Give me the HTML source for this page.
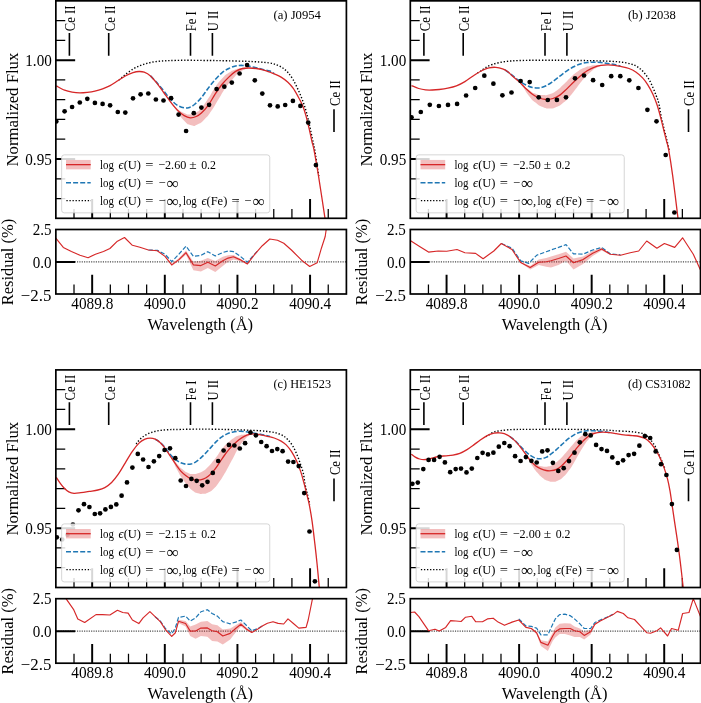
<!DOCTYPE html>
<html><head><meta charset="utf-8"><title>U II 4090 fits</title>
<style>html,body{margin:0;padding:0;background:#fff}svg{display:block;will-change:transform;opacity:0.999}text{font-family:"Liberation Serif",serif;fill:#000}</style>
</head><body>
<svg width="701" height="703" viewBox="0 0 701 703">
<rect width="701" height="703" fill="#fff"/>
<g id="panel-a">
<clipPath id="cma"><rect x="55.85" y="0.85" width="290.55" height="217.45"/></clipPath>
<clipPath id="cra"><rect x="55.85" y="229.5" width="290.55" height="64.5"/></clipPath>
<path d="M92.17,218.3 v-19.3 M164.81,218.3 v-19.3 M237.44,218.3 v-19.3 M310.08,218.3 v-19.3 M55.85,159 h19.3 M55.85,60.15 h19.3" stroke="#000" stroke-width="1.95" fill="none"/>
<path d="M74.01,218.3 v-9.4 M110.33,218.3 v-9.4 M128.49,218.3 v-9.4 M146.65,218.3 v-9.4 M182.97,218.3 v-9.4 M201.13,218.3 v-9.4 M219.28,218.3 v-9.4 M255.6,218.3 v-9.4 M273.76,218.3 v-9.4 M291.92,218.3 v-9.4 M328.24,218.3 v-9.4 M55.85,198.53 h9.4 M55.85,178.76 h9.4 M55.85,139.23 h9.4 M55.85,119.46 h9.4 M55.85,99.69 h9.4 M55.85,79.92 h9.4 M55.85,40.39 h9.4 M55.85,20.62 h9.4" stroke="#000" stroke-width="1.25" fill="none"/>
<g clip-path="url(#cma)">
<path d="M166,95.5 C167.5,97.4 166.7,96.77 170.5,101.2 C174.3,105.63 172.83,104.87 177.4,108.8 C181.97,112.73 179.93,111.13 184.2,113 C188.47,114.87 186.2,114.67 190.2,114.4 C194.2,114.13 192.47,114.37 196.2,112.2 C199.93,110.03 197.4,112.47 201.4,107.9 C205.4,103.33 203.63,105.33 208.2,98.5 C212.77,91.67 210.53,93.97 215.1,87.4 C219.67,80.83 217.33,83.67 221.9,78.8 C226.47,73.93 224.23,75.93 228.8,72.8 C233.37,69.67 231.03,71 235.6,69.4 C240.17,67.8 237.93,68.47 242.5,68 C247.07,67.53 247.03,68 249.3,68 L249.3,68 C248.17,68.33 249.33,67.4 245.9,69 C242.47,70.6 243.57,69.23 239,72.8 C234.43,76.37 236.77,74.57 232.2,79.7 C227.63,84.83 229.87,81.67 225.3,88.2 C220.73,94.73 223.07,91.87 218.5,99.3 C213.93,106.73 216.17,103.93 211.6,110.5 C207.03,117.07 209.37,114.43 204.8,119 C200.23,123.57 202.47,122.13 197.9,124.2 C193.33,126.27 195.67,126.33 191.1,125.2 C186.53,124.07 188.77,125.27 184.2,120.8 C179.63,116.33 181.97,117.87 177.4,111.8 C172.83,105.73 174.3,108.03 170.5,102.6 C166.7,97.17 167.5,97.87 166,95.5 Z" fill="#d62728" fill-opacity="0.3" stroke="none"/>
<path d="M119,80 C119.48,79.57 120.85,78.32 121.9,77.4 C122.95,76.48 123.45,75.88 125.3,74.5 C127.15,73.12 130.45,70.62 133,69.1 C135.55,67.58 138.05,66.42 140.6,65.4 C143.15,64.38 145.77,63.63 148.3,63 C150.83,62.37 153.27,61.95 155.8,61.6 C158.33,61.25 161.15,61.07 163.5,60.9 C165.85,60.73 166.45,60.7 169.9,60.6 C173.35,60.5 177.53,60.32 184.2,60.3 C190.87,60.28 202.75,60.42 209.9,60.5 C217.05,60.58 221.1,60.67 227.1,60.8 C233.1,60.93 240.48,61.1 245.9,61.3 C251.32,61.5 255.73,61.73 259.6,62 C263.47,62.27 266.37,62.47 269.1,62.9 C271.83,63.33 273.72,63.75 276,64.6 C278.28,65.45 280.82,66.68 282.8,68 C284.78,69.32 286.18,70.55 287.9,72.5 C289.62,74.45 291.38,76.8 293.1,79.7 C294.82,82.6 296.63,86.48 298.2,89.9 C299.77,93.32 301.22,96.77 302.5,100.2 C303.78,103.63 304.9,107.07 305.9,110.5 C306.9,113.93 307.63,117.1 308.5,120.8 C309.37,124.5 310.3,129 311.1,132.7 C311.9,136.4 312.7,140.13 313.3,143 C313.9,145.87 313.78,144.4 314.7,149.9 C315.62,155.4 318.12,171.65 318.8,176" fill="none" stroke="#000" stroke-width="1.4" stroke-dasharray="1.35 1.85"/>
<path d="M150.5,75.9 C151.55,77.02 154.6,80.12 156.8,82.6 C159,85.08 161.42,88.02 163.7,90.8 C165.98,93.58 168.22,96.88 170.5,99.3 C172.78,101.72 175.12,103.87 177.4,105.3 C179.68,106.73 182.2,107.55 184.2,107.9 C186.2,108.25 187.68,107.97 189.4,107.4 C191.12,106.83 192.5,106.13 194.5,104.5 C196.5,102.87 199.12,100.32 201.4,97.6 C203.68,94.88 205.92,91.18 208.2,88.2 C210.48,85.22 212.82,82.27 215.1,79.7 C217.38,77.13 219.62,74.67 221.9,72.8 C224.18,70.93 226.52,69.63 228.8,68.5 C231.08,67.37 233.32,66.52 235.6,66 C237.88,65.48 240.22,65.35 242.5,65.4 C244.78,65.45 247.02,65.92 249.3,66.3 C251.58,66.68 253.92,67.18 256.2,67.7 C258.48,68.22 260.72,68.83 263,69.4 C265.28,69.97 268.03,70.4 269.9,71.1 C271.77,71.8 273.48,73.18 274.2,73.6" fill="none" stroke="#1f77b4" stroke-width="1.55" stroke-dasharray="5 2.0"/>
<path d="M56.3,85.9 C57.68,86.62 61.97,89.17 64.6,90.2 C67.23,91.23 69.57,91.67 72.1,92.1 C74.63,92.53 77.27,92.77 79.8,92.8 C82.33,92.83 84.78,92.58 87.3,92.3 C89.82,92.02 92.35,91.68 94.9,91.1 C97.45,90.52 100.07,89.72 102.6,88.8 C105.13,87.88 107.57,86.93 110.1,85.6 C112.63,84.27 115.27,82.4 117.8,80.8 C120.33,79.2 122.77,77.35 125.3,76 C127.83,74.65 130.72,73.45 133,72.7 C135.28,71.95 137.13,71.58 139,71.5 C140.87,71.42 142.28,71.47 144.2,72.2 C146.12,72.93 148.4,74.08 150.5,75.9 C152.6,77.72 154.6,80.33 156.8,83.1 C159,85.87 161.42,89.37 163.7,92.5 C165.98,95.63 168.22,98.97 170.5,101.9 C172.78,104.83 175.12,107.82 177.4,110.1 C179.68,112.38 182.07,114.32 184.2,115.6 C186.33,116.88 188.2,117.65 190.2,117.8 C192.2,117.95 194.33,117.3 196.2,116.5 C198.07,115.7 199.4,114.87 201.4,113 C203.4,111.13 205.92,108.43 208.2,105.3 C210.48,102.17 212.82,97.67 215.1,94.2 C217.38,90.73 219.62,87.35 221.9,84.5 C224.18,81.65 226.52,79.28 228.8,77.1 C231.08,74.92 233.32,72.83 235.6,71.4 C237.88,69.97 240.22,69.07 242.5,68.5 C244.78,67.93 247.02,68 249.3,68 C251.58,68 253.92,68.18 256.2,68.5 C258.48,68.82 261.13,69.43 263,69.9 C264.87,70.37 266.1,70.87 267.4,71.3 C268.7,71.73 269.67,72.08 270.8,72.5 C271.93,72.92 272.48,73.03 274.2,73.8 C275.92,74.57 278.82,75.7 281.1,77.1 C283.38,78.5 285.9,80.35 287.9,82.2 C289.9,84.05 291.38,85.77 293.1,88.2 C294.82,90.63 296.63,93.95 298.2,96.8 C299.77,99.65 301.22,102.17 302.5,105.3 C303.78,108.43 304.77,111.6 305.9,115.6 C307.03,119.6 308.3,125.02 309.3,129.3 C310.3,133.58 311.12,137.87 311.9,141.3 C312.68,144.73 312.9,144.13 314,149.9 C315.1,155.67 316.67,164.5 318.5,175.9 C320.33,187.3 323.92,211.23 325,218.3" fill="none" stroke="#d62728" stroke-width="1.3"/>
<g fill="#000"><circle cx="56.3" cy="121.4" r="2.35"/><circle cx="64.6" cy="111.3" r="2.35"/><circle cx="72.1" cy="107" r="2.35"/><circle cx="79.8" cy="102.5" r="2.35"/><circle cx="87.3" cy="98.8" r="2.35"/><circle cx="94.9" cy="102.9" r="2.35"/><circle cx="102.6" cy="103.9" r="2.35"/><circle cx="110.1" cy="105.3" r="2.35"/><circle cx="117.8" cy="112" r="2.35"/><circle cx="125.3" cy="112.6" r="2.35"/><circle cx="133" cy="98.3" r="2.35"/><circle cx="140.6" cy="94.3" r="2.35"/><circle cx="148.3" cy="93.5" r="2.35"/><circle cx="155.9" cy="99.5" r="2.35"/><circle cx="163.5" cy="100.5" r="2.35"/><circle cx="171.1" cy="98.2" r="2.35"/><circle cx="178.6" cy="114.6" r="2.35"/><circle cx="186.1" cy="131" r="2.35"/><circle cx="193.8" cy="113.2" r="2.35"/><circle cx="201.4" cy="107.6" r="2.35"/><circle cx="209.1" cy="104.8" r="2.35"/><circle cx="216.6" cy="89.1" r="2.35"/><circle cx="224.3" cy="86.7" r="2.35"/><circle cx="231.8" cy="82.6" r="2.35"/><circle cx="239.6" cy="73.5" r="2.35"/><circle cx="247.1" cy="65" r="2.35"/><circle cx="254.8" cy="80.3" r="2.35"/><circle cx="262.3" cy="93.6" r="2.35"/><circle cx="270" cy="105.3" r="2.35"/><circle cx="277.7" cy="106.4" r="2.35"/><circle cx="285.2" cy="105" r="2.35"/><circle cx="292.9" cy="100.9" r="2.35"/><circle cx="300.4" cy="105.9" r="2.35"/><circle cx="308.2" cy="122.6" r="2.35"/><circle cx="315.9" cy="165.1" r="2.35"/></g>
</g>
<path d="M69.4,33.1 V55.7 M108.7,33.1 V55.7 M190.5,33.1 V55.7 M212.4,33.1 V55.7 M334,109.3 V132" stroke="#000" stroke-width="1.6" fill="none"/>
<text x="75.3" y="31.2" font-size="13.8" textLength="25.6" lengthAdjust="spacingAndGlyphs" transform="rotate(-90 75.3 31.2)">Ce II</text>
<text x="114.6" y="31.2" font-size="13.8" textLength="25.6" lengthAdjust="spacingAndGlyphs" transform="rotate(-90 114.6 31.2)">Ce II</text>
<text x="196.4" y="31.2" font-size="13.8" textLength="19.9" lengthAdjust="spacingAndGlyphs" transform="rotate(-90 196.4 31.2)">Fe I</text>
<text x="218.3" y="31.2" font-size="13.8" textLength="20.4" lengthAdjust="spacingAndGlyphs" transform="rotate(-90 218.3 31.2)">U II</text>
<text x="339.9" y="105.9" font-size="13.8" textLength="25.6" lengthAdjust="spacingAndGlyphs" transform="rotate(-90 339.9 105.9)">Ce II</text>
<rect x="61.65" y="154.85" width="208.1" height="58" rx="2.6" fill="#fff" fill-opacity="0.84" stroke="#ccc" stroke-opacity="0.8" stroke-width="1"/>
<rect x="66" y="159.95" width="24.7" height="9.4" fill="#d62728" fill-opacity="0.3"/>
<path d="M66,164.65 H90.7" stroke="#d62728" stroke-width="1.3"/>
<path d="M66,182.75 H90.7" stroke="#1f77b4" stroke-width="1.4" stroke-dasharray="5 2.1"/>
<path d="M66.4,200.55 H91" stroke="#000" stroke-width="1.35" stroke-dasharray="1.3 1.75"/>
<text x="100" y="169.15" font-size="12.6" textLength="13.9" lengthAdjust="spacingAndGlyphs">log</text>
<text x="118.6" y="169.15" font-size="12.6" textLength="22.4" lengthAdjust="spacingAndGlyphs"><tspan font-style="italic">ϵ</tspan>(U)</text>
<text x="145.3" y="169.15" font-size="12.6" textLength="8.2" lengthAdjust="spacingAndGlyphs">=</text>
<text x="100" y="187.15" font-size="12.6" textLength="13.9" lengthAdjust="spacingAndGlyphs">log</text>
<text x="118.6" y="187.15" font-size="12.6" textLength="22.4" lengthAdjust="spacingAndGlyphs"><tspan font-style="italic">ϵ</tspan>(U)</text>
<text x="145.3" y="187.15" font-size="12.6" textLength="8.2" lengthAdjust="spacingAndGlyphs">=</text>
<text x="100" y="205.15" font-size="12.6" textLength="13.9" lengthAdjust="spacingAndGlyphs">log</text>
<text x="118.6" y="205.15" font-size="12.6" textLength="22.4" lengthAdjust="spacingAndGlyphs"><tspan font-style="italic">ϵ</tspan>(U)</text>
<text x="145.3" y="205.15" font-size="12.6" textLength="8.2" lengthAdjust="spacingAndGlyphs">=</text>
<text x="158.2" y="169.15" font-size="12.6" textLength="28.1" lengthAdjust="spacingAndGlyphs">−2.60</text>
<text x="189.2" y="169.15" font-size="12.6" textLength="7.4" lengthAdjust="spacingAndGlyphs">±</text>
<text x="201.2" y="169.15" font-size="12.6" textLength="14.8" lengthAdjust="spacingAndGlyphs">0.2</text>
<text x="158.4" y="187.15" font-size="12.6" textLength="7.1" lengthAdjust="spacingAndGlyphs">−</text>
<text x="166.7" y="188.95" font-size="17.5" textLength="12" lengthAdjust="spacingAndGlyphs">∞</text>
<text x="158.4" y="205.15" font-size="12.6" textLength="7.1" lengthAdjust="spacingAndGlyphs">−</text>
<text x="166.7" y="206.95" font-size="17.5" textLength="12" lengthAdjust="spacingAndGlyphs">∞</text>
<text x="178.6" y="205.15" font-size="12.6">,</text>
<text x="182.9" y="205.15" font-size="12.6" textLength="13.9" lengthAdjust="spacingAndGlyphs">log</text>
<text x="201.5" y="205.15" font-size="12.6" textLength="25.8" lengthAdjust="spacingAndGlyphs"><tspan font-style="italic">ϵ</tspan>(Fe)</text>
<text x="231.4" y="205.15" font-size="12.6" textLength="8.2" lengthAdjust="spacingAndGlyphs">=</text>
<text x="244.3" y="205.15" font-size="12.6" textLength="7.1" lengthAdjust="spacingAndGlyphs">−</text>
<text x="252.7" y="206.95" font-size="17.5" textLength="12" lengthAdjust="spacingAndGlyphs">∞</text>
<rect x="55.85" y="0.85" width="290.55" height="217.45" fill="none" stroke="#000" stroke-width="1.7"/>
<text x="273.45" y="18.85" font-size="12.5" textLength="47.5" lengthAdjust="spacingAndGlyphs">(a) J0954</text>
<text x="51.8" y="65.85" font-size="16" text-anchor="end" textLength="26.5" lengthAdjust="spacingAndGlyphs">1.00</text>
<text x="51.8" y="164.7" font-size="16" text-anchor="end" textLength="26.5" lengthAdjust="spacingAndGlyphs">0.95</text>
<text x="17.65" y="109.58" font-size="16.5" text-anchor="middle" textLength="113.8" lengthAdjust="spacingAndGlyphs" transform="rotate(-90 17.65 109.58)">Normalized Flux</text>
<path d="M55.85,261.95 H346.4" stroke="#4a4a4a" stroke-width="1.2" stroke-dasharray="1.15 1.2" fill="none"/>
<path d="M92.17,294 v-19.3 M164.81,294 v-19.3 M237.44,294 v-19.3 M310.08,294 v-19.3 M55.85,261.95 h19.3" stroke="#000" stroke-width="1.95" fill="none"/>
<path d="M74.01,294 v-9.4 M110.33,294 v-9.4 M128.49,294 v-9.4 M146.65,294 v-9.4 M182.97,294 v-9.4 M201.13,294 v-9.4 M219.28,294 v-9.4 M255.6,294 v-9.4 M273.76,294 v-9.4 M291.92,294 v-9.4 M328.24,294 v-9.4" stroke="#000" stroke-width="1.25" fill="none"/>
<g clip-path="url(#cra)">
<path d="M165,256.2 L171.8,263.9 L178.9,258.1 L186,250.6 L193.4,261.7 L200.9,260.7 L207.8,258.1 L215.3,261.1 L222.8,256.8 L228.1,255.3 L233.5,254.9 L239.9,258.5 L247.4,263.4 L251,259 L251,259.2 L247.4,264.5 L239.9,261.1 L233.5,259.6 L228.1,261.7 L222.8,266 L215.3,272 L207.8,268.1 L200.9,271.4 L193.4,270.3 L186,254.7 L178.9,261.1 L171.8,266 L165,256.6 Z" fill="#d62728" fill-opacity="0.3" stroke="none"/>
<path d="M148.4,250 L157.5,250.4 L165,254.2 L171.8,261.7 L178.9,254.2 L186,246.1 L193.4,256.4 L200.9,255.3 L207.8,251.7 L215.3,256 L222.8,252.5 L228.1,251 L233.5,251.7 L239.9,256 L247.4,262.2 L254.9,253.8 L258.5,250" fill="none" stroke="#1f77b4" stroke-width="1.2" stroke-dasharray="4.4 1.9" stroke-linejoin="round"/>
<path d="M55.8,238.2 L63.3,247.4 L71.4,251.5 L80,255.3 L88.1,257.7 L95.4,254.2 L103.5,251.5 L109.9,248.5 L117.4,241.2 L124.5,237.5 L132.4,245.3 L139.9,247.2 L148.4,250 L157.3,250.8 L165,256.4 L171.8,264.9 L178.9,259.6 L186,252.7 L193.4,264.9 L200.9,265.6 L207.8,262.2 L215.3,266 L222.8,260.7 L228.1,258.1 L233.5,256.8 L239.9,259.6 L247.4,263.9 L254.9,254.2 L262.3,245.7 L269.8,239 L277.5,240.2 L283.8,243.2 L291.4,250 L301.6,260.2 L309.7,266.5 L317.2,262.7 L321.4,248.2 L325.2,236.5 L326.2,229.5" fill="none" stroke="#d62728" stroke-width="1.15" stroke-linejoin="round"/>
</g>
<rect x="55.85" y="229.5" width="290.55" height="64.5" fill="none" stroke="#000" stroke-width="1.7"/>
<text x="51.45" y="235.1" font-size="16" text-anchor="end" textLength="18.8" lengthAdjust="spacingAndGlyphs">2.5</text>
<text x="51.45" y="267.85" font-size="16" text-anchor="end" textLength="18.8" lengthAdjust="spacingAndGlyphs">0.0</text>
<text x="51.45" y="300.5" font-size="16" text-anchor="end" textLength="30.6" lengthAdjust="spacingAndGlyphs">−2.5</text>
<text x="12.55" y="262.05" font-size="16.5" text-anchor="middle" textLength="86.5" lengthAdjust="spacingAndGlyphs" transform="rotate(-90 12.55 262.05)">Residual (%)</text>
<text x="92.27" y="309.2" font-size="16" text-anchor="middle" textLength="42" lengthAdjust="spacingAndGlyphs">4089.8</text>
<text x="164.91" y="309.2" font-size="16" text-anchor="middle" textLength="42" lengthAdjust="spacingAndGlyphs">4090.0</text>
<text x="237.54" y="309.2" font-size="16" text-anchor="middle" textLength="42" lengthAdjust="spacingAndGlyphs">4090.2</text>
<text x="310.18" y="309.2" font-size="16" text-anchor="middle" textLength="42" lengthAdjust="spacingAndGlyphs">4090.4</text>
<text x="200.32" y="330" font-size="16.5" text-anchor="middle" textLength="105.6" lengthAdjust="spacingAndGlyphs">Wavelength (Å)</text>
</g>
<g id="panel-b">
<clipPath id="cmb"><rect x="410.3" y="0.85" width="290.2" height="217.45"/></clipPath>
<clipPath id="crb"><rect x="410.3" y="229.5" width="290.2" height="64.5"/></clipPath>
<path d="M446.57,218.3 v-19.3 M519.13,218.3 v-19.3 M591.67,218.3 v-19.3 M664.22,218.3 v-19.3 M410.3,159 h19.3 M410.3,60.15 h19.3" stroke="#000" stroke-width="1.95" fill="none"/>
<path d="M428.44,218.3 v-9.4 M464.71,218.3 v-9.4 M482.85,218.3 v-9.4 M500.99,218.3 v-9.4 M537.26,218.3 v-9.4 M555.4,218.3 v-9.4 M573.54,218.3 v-9.4 M609.81,218.3 v-9.4 M627.95,218.3 v-9.4 M646.09,218.3 v-9.4 M682.36,218.3 v-9.4 M410.3,198.53 h9.4 M410.3,178.76 h9.4 M410.3,139.23 h9.4 M410.3,119.46 h9.4 M410.3,99.69 h9.4 M410.3,79.92 h9.4 M410.3,40.39 h9.4 M410.3,20.62 h9.4" stroke="#000" stroke-width="1.25" fill="none"/>
<g clip-path="url(#cmb)">
<path d="M516,78.8 C518.03,80.5 517.77,80.2 522.1,83.9 C526.43,87.6 524.43,86.63 529,89.9 C533.57,93.17 531.23,91.97 535.8,93.7 C540.37,95.43 538.13,94.93 542.7,95.1 C547.27,95.27 544.93,95.63 549.5,94.2 C554.07,92.77 551.83,93.93 556.4,90.8 C560.97,87.67 558.63,89.1 563.2,84.8 C567.77,80.5 565.53,82.17 570.1,77.9 C574.67,73.63 572.33,75.3 576.9,72 C581.47,68.7 579.23,70 583.8,68 C588.37,66 586.03,66.97 590.6,66 C595.17,65.03 592.93,65.47 597.5,65.1 C602.07,64.73 600.9,64.97 604.3,64.9 C607.7,64.83 606.57,64.9 607.7,64.9 L607.7,64.9 C606.57,65.07 607.7,64.6 604.3,65.4 C600.9,66.2 602.07,65.1 597.5,67.3 C592.93,69.5 595.17,68.17 590.6,72 C586.03,75.83 588.37,73.67 583.8,78.8 C579.23,83.93 581.47,81.7 576.9,87.4 C572.33,93.1 574.67,90.77 570.1,95.9 C565.53,101.03 567.77,99.07 563.2,102.8 C558.63,106.53 560.97,105.23 556.4,107.1 C551.83,108.97 554.07,108.4 549.5,108.4 C544.93,108.4 547.27,108.97 542.7,107.1 C538.13,105.23 540.37,106.53 535.8,102.8 C531.23,99.07 533.57,101.6 529,95.9 C524.43,90.2 526.43,91.4 522.1,85.7 C517.77,80 518.03,81.1 516,78.8 Z" fill="#d62728" fill-opacity="0.3" stroke="none"/>
<path d="M477.5,73 C477.97,72.73 478.97,72.3 480.3,71.4 C481.63,70.5 483.5,68.75 485.5,67.6 C487.5,66.45 489.73,65.38 492.3,64.5 C494.87,63.62 498.03,62.87 500.9,62.3 C503.77,61.73 506.65,61.38 509.5,61.1 C512.35,60.82 514.47,60.73 518,60.6 C521.53,60.47 524.3,60.35 530.7,60.3 C537.1,60.25 547.83,60.27 556.4,60.3 C564.97,60.33 575.72,60.42 582.1,60.5 C588.48,60.58 590.32,60.68 594.7,60.8 C599.08,60.92 604.12,61 608.4,61.2 C612.68,61.4 616.68,61.55 620.4,62 C624.12,62.45 627.85,63.1 630.7,63.9 C633.55,64.7 635.37,65.45 637.5,66.8 C639.63,68.15 641.65,70 643.5,72 C645.35,74 647.03,76.23 648.6,78.8 C650.17,81.37 651.62,84.55 652.9,87.4 C654.18,90.25 655.3,93.2 656.3,95.9 C657.3,98.6 658.07,100 658.9,103.6 C659.73,107.2 660.35,112.9 661.3,117.5 C662.25,122.1 663.62,127.2 664.6,131.2 C665.58,135.2 666.43,138.37 667.2,141.5 C667.97,144.63 668.87,148.58 669.2,150" fill="none" stroke="#000" stroke-width="1.4" stroke-dasharray="1.35 1.85"/>
<path d="M505,69.9 C506.13,70.73 509.52,73.13 511.8,74.9 C514.08,76.67 516.42,78.85 518.7,80.5 C520.98,82.15 523.22,83.65 525.5,84.8 C527.78,85.95 530.12,86.88 532.4,87.4 C534.68,87.92 536.92,88.18 539.2,87.9 C541.48,87.62 543.82,86.78 546.1,85.7 C548.38,84.62 550.62,82.98 552.9,81.4 C555.18,79.82 557.52,77.92 559.8,76.2 C562.08,74.48 564.32,72.67 566.6,71.1 C568.88,69.53 571.22,68 573.5,66.8 C575.78,65.6 578.02,64.62 580.3,63.9 C582.58,63.18 584.92,62.78 587.2,62.5 C589.48,62.22 591.72,62.2 594,62.2 C596.28,62.2 598.62,62.3 600.9,62.5 C603.18,62.7 605.42,63.05 607.7,63.4 C609.98,63.75 612.48,64.17 614.6,64.6 C616.72,65.03 619.43,65.77 620.4,66" fill="none" stroke="#1f77b4" stroke-width="1.55" stroke-dasharray="5 2.0"/>
<path d="M411.5,85.6 C412.7,86.08 416.37,87.78 418.7,88.5 C421.03,89.22 423.22,89.65 425.5,89.9 C427.78,90.15 430.12,90.07 432.4,90 C434.68,89.93 436.63,89.8 439.2,89.5 C441.77,89.2 444.93,88.8 447.8,88.2 C450.67,87.6 453.55,87 456.4,85.9 C459.25,84.8 462.05,83.3 464.9,81.6 C467.75,79.9 470.63,77.55 473.5,75.7 C476.37,73.85 479.53,71.8 482.1,70.5 C484.67,69.2 486.62,68.43 488.9,67.9 C491.18,67.37 493.52,67.15 495.8,67.3 C498.08,67.45 500.65,68.1 502.6,68.8 C504.55,69.5 505.97,70.4 507.5,71.5 C509.03,72.6 509.93,73.75 511.8,75.4 C513.67,77.05 516.42,79.27 518.7,81.4 C520.98,83.53 523.22,86.07 525.5,88.2 C527.78,90.33 530.12,92.57 532.4,94.2 C534.68,95.83 536.92,97.12 539.2,98 C541.48,98.88 543.82,99.42 546.1,99.5 C548.38,99.58 550.62,99.23 552.9,98.5 C555.18,97.77 557.52,96.67 559.8,95.1 C562.08,93.53 564.32,91.25 566.6,89.1 C568.88,86.95 571.22,84.4 573.5,82.2 C575.78,80 578.02,77.8 580.3,75.9 C582.58,74 584.92,72.23 587.2,70.8 C589.48,69.37 591.72,68.2 594,67.3 C596.28,66.4 598.62,65.8 600.9,65.4 C603.18,65 605.42,64.92 607.7,64.9 C609.98,64.88 612.48,65.07 614.6,65.3 C616.72,65.53 618,65.77 620.4,66.3 C622.8,66.83 626.43,67.55 629,68.5 C631.57,69.45 633.53,70.43 635.8,72 C638.07,73.57 640.6,75.77 642.6,77.9 C644.6,80.03 646.08,82.08 647.8,84.8 C649.52,87.52 651.33,90.78 652.9,94.2 C654.47,97.62 655.92,101.45 657.2,105.3 C658.48,109.15 659.47,113.02 660.6,117.3 C661.73,121.58 663,127 664,131 C665,135 665.82,138.15 666.6,141.3 C667.38,144.45 667.68,144.13 668.7,149.9 C669.72,155.67 671.15,164.5 672.7,175.9 C674.25,187.3 677.12,211.23 678,218.3" fill="none" stroke="#d62728" stroke-width="1.3"/>
<g fill="#000"><circle cx="411.5" cy="117.3" r="2.35"/><circle cx="420.8" cy="112" r="2.35"/><circle cx="429.8" cy="104.8" r="2.35"/><circle cx="438.9" cy="106" r="2.35"/><circle cx="448" cy="104.9" r="2.35"/><circle cx="457.1" cy="103.9" r="2.35"/><circle cx="466.1" cy="95.5" r="2.35"/><circle cx="475.2" cy="88" r="2.35"/><circle cx="484.3" cy="75.7" r="2.35"/><circle cx="493.4" cy="83.7" r="2.35"/><circle cx="502.4" cy="95.3" r="2.35"/><circle cx="511.5" cy="92.5" r="2.35"/><circle cx="520.6" cy="81" r="2.35"/><circle cx="529.7" cy="82.1" r="2.35"/><circle cx="538.7" cy="97.3" r="2.35"/><circle cx="547.8" cy="100" r="2.35"/><circle cx="556.9" cy="99.9" r="2.35"/><circle cx="566" cy="97.3" r="2.35"/><circle cx="575" cy="78.3" r="2.35"/><circle cx="584" cy="75.5" r="2.35"/><circle cx="593.1" cy="80.2" r="2.35"/><circle cx="602.2" cy="85" r="2.35"/><circle cx="611.2" cy="76.2" r="2.35"/><circle cx="620.3" cy="76.2" r="2.35"/><circle cx="629.3" cy="80.3" r="2.35"/><circle cx="638.4" cy="88" r="2.35"/><circle cx="647.4" cy="109.8" r="2.35"/><circle cx="656.5" cy="121.3" r="2.35"/><circle cx="665.7" cy="155" r="2.35"/><circle cx="674.4" cy="212.5" r="2.35"/></g>
</g>
<path d="M423.9,33.1 V55.7 M463.2,33.1 V55.7 M545,33.1 V55.7 M566.9,33.1 V55.7 M688.5,109.3 V132" stroke="#000" stroke-width="1.6" fill="none"/>
<text x="429.8" y="31.2" font-size="13.8" textLength="25.6" lengthAdjust="spacingAndGlyphs" transform="rotate(-90 429.8 31.2)">Ce II</text>
<text x="469.1" y="31.2" font-size="13.8" textLength="25.6" lengthAdjust="spacingAndGlyphs" transform="rotate(-90 469.1 31.2)">Ce II</text>
<text x="550.9" y="31.2" font-size="13.8" textLength="19.9" lengthAdjust="spacingAndGlyphs" transform="rotate(-90 550.9 31.2)">Fe I</text>
<text x="572.8" y="31.2" font-size="13.8" textLength="20.4" lengthAdjust="spacingAndGlyphs" transform="rotate(-90 572.8 31.2)">U II</text>
<text x="694.4" y="105.9" font-size="13.8" textLength="25.6" lengthAdjust="spacingAndGlyphs" transform="rotate(-90 694.4 105.9)">Ce II</text>
<rect x="416.15" y="154.85" width="208.1" height="58" rx="2.6" fill="#fff" fill-opacity="0.84" stroke="#ccc" stroke-opacity="0.8" stroke-width="1"/>
<rect x="420.5" y="159.95" width="24.7" height="9.4" fill="#d62728" fill-opacity="0.3"/>
<path d="M420.5,164.65 H445.2" stroke="#d62728" stroke-width="1.3"/>
<path d="M420.5,182.75 H445.2" stroke="#1f77b4" stroke-width="1.4" stroke-dasharray="5 2.1"/>
<path d="M420.9,200.55 H445.5" stroke="#000" stroke-width="1.35" stroke-dasharray="1.3 1.75"/>
<text x="454.5" y="169.15" font-size="12.6" textLength="13.9" lengthAdjust="spacingAndGlyphs">log</text>
<text x="473.1" y="169.15" font-size="12.6" textLength="22.4" lengthAdjust="spacingAndGlyphs"><tspan font-style="italic">ϵ</tspan>(U)</text>
<text x="499.8" y="169.15" font-size="12.6" textLength="8.2" lengthAdjust="spacingAndGlyphs">=</text>
<text x="454.5" y="187.15" font-size="12.6" textLength="13.9" lengthAdjust="spacingAndGlyphs">log</text>
<text x="473.1" y="187.15" font-size="12.6" textLength="22.4" lengthAdjust="spacingAndGlyphs"><tspan font-style="italic">ϵ</tspan>(U)</text>
<text x="499.8" y="187.15" font-size="12.6" textLength="8.2" lengthAdjust="spacingAndGlyphs">=</text>
<text x="454.5" y="205.15" font-size="12.6" textLength="13.9" lengthAdjust="spacingAndGlyphs">log</text>
<text x="473.1" y="205.15" font-size="12.6" textLength="22.4" lengthAdjust="spacingAndGlyphs"><tspan font-style="italic">ϵ</tspan>(U)</text>
<text x="499.8" y="205.15" font-size="12.6" textLength="8.2" lengthAdjust="spacingAndGlyphs">=</text>
<text x="512.7" y="169.15" font-size="12.6" textLength="28.1" lengthAdjust="spacingAndGlyphs">−2.50</text>
<text x="543.7" y="169.15" font-size="12.6" textLength="7.4" lengthAdjust="spacingAndGlyphs">±</text>
<text x="555.7" y="169.15" font-size="12.6" textLength="14.8" lengthAdjust="spacingAndGlyphs">0.2</text>
<text x="512.9" y="187.15" font-size="12.6" textLength="7.1" lengthAdjust="spacingAndGlyphs">−</text>
<text x="521.2" y="188.95" font-size="17.5" textLength="12" lengthAdjust="spacingAndGlyphs">∞</text>
<text x="512.9" y="205.15" font-size="12.6" textLength="7.1" lengthAdjust="spacingAndGlyphs">−</text>
<text x="521.2" y="206.95" font-size="17.5" textLength="12" lengthAdjust="spacingAndGlyphs">∞</text>
<text x="533.1" y="205.15" font-size="12.6">,</text>
<text x="537.4" y="205.15" font-size="12.6" textLength="13.9" lengthAdjust="spacingAndGlyphs">log</text>
<text x="556" y="205.15" font-size="12.6" textLength="25.8" lengthAdjust="spacingAndGlyphs"><tspan font-style="italic">ϵ</tspan>(Fe)</text>
<text x="585.9" y="205.15" font-size="12.6" textLength="8.2" lengthAdjust="spacingAndGlyphs">=</text>
<text x="598.8" y="205.15" font-size="12.6" textLength="7.1" lengthAdjust="spacingAndGlyphs">−</text>
<text x="607.2" y="206.95" font-size="17.5" textLength="12" lengthAdjust="spacingAndGlyphs">∞</text>
<rect x="410.3" y="0.85" width="290.2" height="217.45" fill="none" stroke="#000" stroke-width="1.7"/>
<text x="627.9" y="18.85" font-size="12.5" textLength="48" lengthAdjust="spacingAndGlyphs">(b) J2038</text>
<text x="406.25" y="65.85" font-size="16" text-anchor="end" textLength="26.5" lengthAdjust="spacingAndGlyphs">1.00</text>
<text x="406.25" y="164.7" font-size="16" text-anchor="end" textLength="26.5" lengthAdjust="spacingAndGlyphs">0.95</text>
<text x="372.1" y="109.58" font-size="16.5" text-anchor="middle" textLength="113.8" lengthAdjust="spacingAndGlyphs" transform="rotate(-90 372.1 109.58)">Normalized Flux</text>
<path d="M410.3,261.95 H700.5" stroke="#4a4a4a" stroke-width="1.2" stroke-dasharray="1.15 1.2" fill="none"/>
<path d="M446.57,294 v-19.3 M519.13,294 v-19.3 M591.67,294 v-19.3 M664.22,294 v-19.3 M410.3,261.95 h19.3" stroke="#000" stroke-width="1.95" fill="none"/>
<path d="M428.44,294 v-9.4 M464.71,294 v-9.4 M482.85,294 v-9.4 M500.99,294 v-9.4 M537.26,294 v-9.4 M555.4,294 v-9.4 M573.54,294 v-9.4 M609.81,294 v-9.4 M627.95,294 v-9.4 M646.09,294 v-9.4 M682.36,294 v-9.4" stroke="#000" stroke-width="1.25" fill="none"/>
<g clip-path="url(#crb)">
<path d="M512,249.3 L520.6,261.7 L530.2,266 L538.7,259.6 L546.2,258.1 L551,256.4 L558.5,254.2 L566,251.7 L573.5,258.5 L583.1,256.4 L592.7,251 L601.7,247.8 L610.3,253.8 L610.3,254.9 L601.7,250.4 L592.7,256 L583.1,263.9 L573.5,269.6 L566,260.7 L558.5,264.9 L551,267.5 L546.2,266.7 L538.7,264.9 L530.2,269.6 L520.6,262.8 L512,249.7 Z" fill="#d62728" fill-opacity="0.3" stroke="none"/>
<path d="M501.3,243.5 L512,248.2 L520.6,260.7 L528.7,263.4 L536.6,255.3 L546.2,251.7 L551,250 L558.5,247.4 L566,244.6 L573.5,253.8 L583.1,254.2 L592.7,250 L601.7,247.4 L610.3,253.8 L620.5,254.9" fill="none" stroke="#1f77b4" stroke-width="1.2" stroke-dasharray="4.4 1.9" stroke-linejoin="round"/>
<path d="M410.6,240.8 L420,246.7 L428.5,252.1 L438.2,251 L446.7,251.2 L457,249.5 L464.9,252.7 L475.6,253.4 L483.1,258.7 L493.8,251 L501.3,243.5 L512,249.5 L520.6,262.4 L530.2,267.5 L538.7,262.2 L546.2,261.7 L551,260.7 L558.5,258.5 L566,256 L573.5,262.8 L583.1,259.6 L592.7,253.2 L601.7,248.9 L610.3,254.2 L620.5,255.3 L630.2,252.7 L638.7,251 L646.7,241 L656.9,248.2 L664.4,243.5 L674.7,247.4 L682.6,237.8 L693.3,254.2 L700.6,270.3" fill="none" stroke="#d62728" stroke-width="1.15" stroke-linejoin="round"/>
</g>
<rect x="410.3" y="229.5" width="290.2" height="64.5" fill="none" stroke="#000" stroke-width="1.7"/>
<text x="405.9" y="235.1" font-size="16" text-anchor="end" textLength="18.8" lengthAdjust="spacingAndGlyphs">2.5</text>
<text x="405.9" y="267.85" font-size="16" text-anchor="end" textLength="18.8" lengthAdjust="spacingAndGlyphs">0.0</text>
<text x="405.9" y="300.5" font-size="16" text-anchor="end" textLength="30.6" lengthAdjust="spacingAndGlyphs">−2.5</text>
<text x="367" y="262.05" font-size="16.5" text-anchor="middle" textLength="86.5" lengthAdjust="spacingAndGlyphs" transform="rotate(-90 367 262.05)">Residual (%)</text>
<text x="446.68" y="309.2" font-size="16" text-anchor="middle" textLength="42" lengthAdjust="spacingAndGlyphs">4089.8</text>
<text x="519.23" y="309.2" font-size="16" text-anchor="middle" textLength="42" lengthAdjust="spacingAndGlyphs">4090.0</text>
<text x="591.77" y="309.2" font-size="16" text-anchor="middle" textLength="42" lengthAdjust="spacingAndGlyphs">4090.2</text>
<text x="664.33" y="309.2" font-size="16" text-anchor="middle" textLength="42" lengthAdjust="spacingAndGlyphs">4090.4</text>
<text x="554.6" y="330" font-size="16.5" text-anchor="middle" textLength="105.6" lengthAdjust="spacingAndGlyphs">Wavelength (Å)</text>
</g>
<g id="panel-c">
<clipPath id="cmc"><rect x="55.85" y="369.9" width="290.55" height="217.6"/></clipPath>
<clipPath id="crc"><rect x="55.85" y="598.7" width="290.55" height="64.5"/></clipPath>
<path d="M92.17,587.5 v-19.3 M164.81,587.5 v-19.3 M237.44,587.5 v-19.3 M310.08,587.5 v-19.3 M55.85,528.15 h19.3 M55.85,429.25 h19.3" stroke="#000" stroke-width="1.95" fill="none"/>
<path d="M74.01,587.5 v-9.4 M110.33,587.5 v-9.4 M128.49,587.5 v-9.4 M146.65,587.5 v-9.4 M182.97,587.5 v-9.4 M201.13,587.5 v-9.4 M219.28,587.5 v-9.4 M255.6,587.5 v-9.4 M273.76,587.5 v-9.4 M291.92,587.5 v-9.4 M328.24,587.5 v-9.4 M55.85,567.72 h9.4 M55.85,547.94 h9.4 M55.85,508.37 h9.4 M55.85,488.59 h9.4 M55.85,468.81 h9.4 M55.85,449.03 h9.4 M55.85,409.46 h9.4 M55.85,389.68 h9.4" stroke="#000" stroke-width="1.25" fill="none"/>
<g clip-path="url(#cmc)">
<path d="M162,444.6 C163.7,446.5 163.67,446.03 167.1,450.3 C170.53,454.57 168.87,452.77 172.3,457.4 C175.73,462.03 174,460.23 177.4,464.2 C180.8,468.17 179.07,466.43 182.5,469.3 C185.93,472.17 184.27,471.23 187.7,472.8 C191.13,474.37 189.4,473.83 192.8,474 C196.2,474.17 194.47,474.27 197.9,473.3 C201.33,472.33 199.67,473.27 203.1,471.1 C206.53,468.93 204.77,470.23 208.2,466.8 C211.63,463.37 209.97,465.1 213.4,460.8 C216.83,456.5 215.1,458.47 218.5,453.9 C221.9,449.33 220.17,451.07 223.6,447.1 C227.03,443.13 225.37,445.03 228.8,442 C232.23,438.97 230.5,440.13 233.9,438 C237.3,435.87 235.57,436.73 239,435.6 C242.43,434.47 240.77,435.17 244.2,434.6 C247.63,434.03 246.47,434.1 249.3,433.9 C252.13,433.7 251.57,433.97 252.7,434 L252.7,434 C251.57,434.53 252.13,433.53 249.3,435.6 C246.47,437.67 247.63,436.37 244.2,440.2 C240.77,444.03 242.43,441.67 239,447.1 C235.57,452.53 237.3,450.23 233.9,456.5 C230.5,462.77 232.23,459.63 228.8,465.9 C225.37,472.17 227.03,469.6 223.6,475.3 C220.17,481 221.9,478.43 218.5,483 C215.1,487.57 216.83,485.83 213.4,489 C209.97,492.17 211.63,490.9 208.2,492.5 C204.77,494.1 206.53,493.53 203.1,493.8 C199.67,494.07 201.33,494.3 197.9,493.3 C194.47,492.3 196.2,493.37 192.8,490.8 C189.4,488.23 191.13,489.6 187.7,485.6 C184.27,481.6 185.93,483.93 182.5,478.8 C179.07,473.67 180.8,476.5 177.4,470.2 C174,463.9 175.73,466.3 172.3,459.9 C168.87,453.5 170.53,456.1 167.1,451 C163.67,445.9 163.7,446.73 162,444.6 Z" fill="#d62728" fill-opacity="0.3" stroke="none"/>
<path d="M136.2,444 C136.43,443.65 136.55,443.05 137.6,441.9 C138.65,440.75 140.55,438.55 142.5,437.1 C144.45,435.65 147.02,434.2 149.3,433.2 C151.58,432.2 153.92,431.62 156.2,431.1 C158.48,430.58 160.72,430.35 163,430.1 C165.28,429.85 167.78,429.7 169.9,429.6 C172.02,429.5 170.45,429.58 175.7,429.5 C180.95,429.42 192.83,429.1 201.4,429.1 C209.97,429.1 219.68,429.33 227.1,429.5 C234.52,429.67 240.33,429.88 245.9,430.1 C251.47,430.32 256.63,430.53 260.5,430.8 C264.37,431.07 266.52,431.35 269.1,431.7 C271.68,432.05 273.72,432.25 276,432.9 C278.28,433.55 280.82,434.47 282.8,435.6 C284.78,436.73 286.18,437.87 287.9,439.7 C289.62,441.53 291.52,443.93 293.1,446.6 C294.68,449.27 296.12,452.62 297.4,455.7 C298.68,458.78 299.8,462.12 300.8,465.1 C301.8,468.08 302.7,470.45 303.4,473.6 C304.1,476.75 304.37,480.68 305,484 C305.63,487.32 306.4,490.12 307.2,493.5 C308,496.88 309.37,502.5 309.8,504.3" fill="none" stroke="#000" stroke-width="1.4" stroke-dasharray="1.35 1.85"/>
<path d="M155.2,439.2 C156.05,439.75 158.6,441.05 160.3,442.5 C162,443.95 163.7,445.85 165.4,447.9 C167.1,449.95 168.78,452.85 170.5,454.8 C172.22,456.75 173.98,458.27 175.7,459.6 C177.42,460.93 179.08,462.03 180.8,462.8 C182.52,463.57 184.28,464 186,464.2 C187.72,464.4 189.4,464.43 191.1,464 C192.8,463.57 194.48,462.7 196.2,461.6 C197.92,460.5 199.68,458.97 201.4,457.4 C203.12,455.83 204.8,454 206.5,452.2 C208.2,450.4 209.88,448.45 211.6,446.6 C213.32,444.75 215.08,442.73 216.8,441.1 C218.52,439.47 220.18,438 221.9,436.8 C223.62,435.6 225.38,434.67 227.1,433.9 C228.82,433.13 230.22,432.63 232.2,432.2 C234.18,431.77 236.72,431.38 239,431.3 C241.28,431.22 243.62,431.43 245.9,431.7 C248.18,431.97 250.13,432.45 252.7,432.9 C255.27,433.35 258.43,433.8 261.3,434.4 C264.17,435 268.47,436.15 269.9,436.5" fill="none" stroke="#1f77b4" stroke-width="1.55" stroke-dasharray="5 2.0"/>
<path d="M56.3,477.3 C56.97,478.3 58.92,481.43 60.3,483.3 C61.68,485.17 63.18,487.07 64.6,488.5 C66.02,489.93 67.23,491.1 68.8,491.9 C70.37,492.7 72,493.17 74,493.3 C76,493.43 78.23,493.02 80.8,492.7 C83.37,492.38 86.55,491.85 89.4,491.4 C92.25,490.95 95.33,490.63 97.9,490 C100.47,489.37 102.52,488.85 104.8,487.6 C107.08,486.35 109.32,484.78 111.6,482.5 C113.88,480.22 116.22,477.18 118.5,473.9 C120.78,470.62 123.02,466.52 125.3,462.8 C127.58,459.08 129.92,454.88 132.2,451.6 C134.48,448.32 136.87,445.18 139,443.1 C141.13,441.02 143.13,439.93 145,439.1 C146.87,438.27 148.5,438.08 150.2,438.1 C151.9,438.12 153.52,438.42 155.2,439.2 C156.88,439.98 158.6,441.2 160.3,442.8 C162,444.4 163.7,446.52 165.4,448.8 C167.1,451.08 168.78,453.93 170.5,456.5 C172.22,459.07 173.98,461.77 175.7,464.2 C177.42,466.63 179.08,469.18 180.8,471.1 C182.52,473.02 184.28,474.42 186,475.7 C187.72,476.98 189.25,478.07 191.1,478.8 C192.95,479.53 195.1,480.05 197.1,480.1 C199.1,480.15 201.25,479.75 203.1,479.1 C204.95,478.45 206.48,477.53 208.2,476.2 C209.92,474.87 211.68,473.1 213.4,471.1 C215.12,469.1 216.8,466.63 218.5,464.2 C220.2,461.77 221.88,458.92 223.6,456.5 C225.32,454.08 227.08,451.75 228.8,449.7 C230.52,447.65 232.2,445.87 233.9,444.2 C235.6,442.53 237.28,441.02 239,439.7 C240.72,438.38 242.48,437.2 244.2,436.3 C245.92,435.4 247.58,434.7 249.3,434.3 C251.02,433.9 252.63,433.82 254.5,433.9 C256.37,433.98 258.35,434.4 260.5,434.8 C262.65,435.2 265.12,435.77 267.4,436.3 C269.68,436.83 271.92,437.2 274.2,438 C276.48,438.8 279.1,439.95 281.1,441.1 C283.1,442.25 284.48,443.18 286.2,444.9 C287.92,446.62 289.68,448.75 291.4,451.4 C293.12,454.05 294.93,457.38 296.5,460.8 C298.07,464.22 299.52,468.05 300.8,471.9 C302.08,475.75 303.23,480.3 304.2,483.9 C305.17,487.5 305.77,490.1 306.6,493.5 C307.43,496.9 308.28,499.65 309.2,504.3 C310.12,508.95 311.15,514.75 312.1,521.4 C313.05,528.05 314.07,537.07 314.9,544.2 C315.73,551.33 316.37,556.98 317.1,564.2 C317.83,571.42 318.93,583.62 319.3,587.5" fill="none" stroke="#d62728" stroke-width="1.3"/>
<g fill="#000"><circle cx="56.8" cy="537.3" r="2.35"/><circle cx="62.2" cy="539.5" r="2.35"/><circle cx="67.5" cy="534.7" r="2.35"/><circle cx="72.9" cy="524.5" r="2.35"/><circle cx="78.5" cy="510.3" r="2.35"/><circle cx="84" cy="504.2" r="2.35"/><circle cx="89.4" cy="507" r="2.35"/><circle cx="94.8" cy="514" r="2.35"/><circle cx="100.1" cy="513.3" r="2.35"/><circle cx="105.4" cy="509.4" r="2.35"/><circle cx="110.9" cy="506.9" r="2.35"/><circle cx="116.3" cy="504.4" r="2.35"/><circle cx="121.6" cy="495.7" r="2.35"/><circle cx="127" cy="482.4" r="2.35"/><circle cx="132.4" cy="467.6" r="2.35"/><circle cx="137.8" cy="453.9" r="2.35"/><circle cx="143.1" cy="459.5" r="2.35"/><circle cx="148.5" cy="467" r="2.35"/><circle cx="153.9" cy="461.3" r="2.35"/><circle cx="159.2" cy="456.1" r="2.35"/><circle cx="164.6" cy="450" r="2.35"/><circle cx="170" cy="448.3" r="2.35"/><circle cx="175.3" cy="458.2" r="2.35"/><circle cx="180.7" cy="480.5" r="2.35"/><circle cx="186" cy="486" r="2.35"/><circle cx="191.4" cy="478.9" r="2.35"/><circle cx="196.7" cy="480.8" r="2.35"/><circle cx="202.2" cy="485.3" r="2.35"/><circle cx="207.5" cy="481.8" r="2.35"/><circle cx="212.8" cy="472.9" r="2.35"/><circle cx="218.2" cy="461" r="2.35"/><circle cx="223.6" cy="450.5" r="2.35"/><circle cx="228.9" cy="444.9" r="2.35"/><circle cx="234.4" cy="445.5" r="2.35"/><circle cx="239.8" cy="448.5" r="2.35"/><circle cx="245.1" cy="443.2" r="2.35"/><circle cx="250.5" cy="432.5" r="2.35"/><circle cx="255.9" cy="435.3" r="2.35"/><circle cx="261.2" cy="442" r="2.35"/><circle cx="266.6" cy="446.2" r="2.35"/><circle cx="272" cy="451" r="2.35"/><circle cx="277.3" cy="449.1" r="2.35"/><circle cx="282.6" cy="451.2" r="2.35"/><circle cx="288.1" cy="461.6" r="2.35"/><circle cx="293.4" cy="462" r="2.35"/><circle cx="298.7" cy="466.1" r="2.35"/><circle cx="304.2" cy="493.1" r="2.35"/><circle cx="309.5" cy="531.5" r="2.35"/><circle cx="314.9" cy="581.3" r="2.35"/></g>
</g>
<path d="M69.4,402.3 V424.9 M108.7,402.3 V424.9 M190.5,402.3 V424.9 M212.4,402.3 V424.9 M334,478.5 V501.2" stroke="#000" stroke-width="1.6" fill="none"/>
<text x="75.3" y="400.4" font-size="13.8" textLength="25.6" lengthAdjust="spacingAndGlyphs" transform="rotate(-90 75.3 400.4)">Ce II</text>
<text x="114.6" y="400.4" font-size="13.8" textLength="25.6" lengthAdjust="spacingAndGlyphs" transform="rotate(-90 114.6 400.4)">Ce II</text>
<text x="196.4" y="400.4" font-size="13.8" textLength="19.9" lengthAdjust="spacingAndGlyphs" transform="rotate(-90 196.4 400.4)">Fe I</text>
<text x="218.3" y="400.4" font-size="13.8" textLength="20.4" lengthAdjust="spacingAndGlyphs" transform="rotate(-90 218.3 400.4)">U II</text>
<text x="339.9" y="475.1" font-size="13.8" textLength="25.6" lengthAdjust="spacingAndGlyphs" transform="rotate(-90 339.9 475.1)">Ce II</text>
<rect x="61.65" y="523.9" width="208.1" height="58" rx="2.6" fill="#fff" fill-opacity="0.84" stroke="#ccc" stroke-opacity="0.8" stroke-width="1"/>
<rect x="66" y="529" width="24.7" height="9.4" fill="#d62728" fill-opacity="0.3"/>
<path d="M66,533.7 H90.7" stroke="#d62728" stroke-width="1.3"/>
<path d="M66,551.8 H90.7" stroke="#1f77b4" stroke-width="1.4" stroke-dasharray="5 2.1"/>
<path d="M66.4,569.6 H91" stroke="#000" stroke-width="1.35" stroke-dasharray="1.3 1.75"/>
<text x="100" y="538.2" font-size="12.6" textLength="13.9" lengthAdjust="spacingAndGlyphs">log</text>
<text x="118.6" y="538.2" font-size="12.6" textLength="22.4" lengthAdjust="spacingAndGlyphs"><tspan font-style="italic">ϵ</tspan>(U)</text>
<text x="145.3" y="538.2" font-size="12.6" textLength="8.2" lengthAdjust="spacingAndGlyphs">=</text>
<text x="100" y="556.2" font-size="12.6" textLength="13.9" lengthAdjust="spacingAndGlyphs">log</text>
<text x="118.6" y="556.2" font-size="12.6" textLength="22.4" lengthAdjust="spacingAndGlyphs"><tspan font-style="italic">ϵ</tspan>(U)</text>
<text x="145.3" y="556.2" font-size="12.6" textLength="8.2" lengthAdjust="spacingAndGlyphs">=</text>
<text x="100" y="574.2" font-size="12.6" textLength="13.9" lengthAdjust="spacingAndGlyphs">log</text>
<text x="118.6" y="574.2" font-size="12.6" textLength="22.4" lengthAdjust="spacingAndGlyphs"><tspan font-style="italic">ϵ</tspan>(U)</text>
<text x="145.3" y="574.2" font-size="12.6" textLength="8.2" lengthAdjust="spacingAndGlyphs">=</text>
<text x="158.2" y="538.2" font-size="12.6" textLength="28.1" lengthAdjust="spacingAndGlyphs">−2.15</text>
<text x="189.2" y="538.2" font-size="12.6" textLength="7.4" lengthAdjust="spacingAndGlyphs">±</text>
<text x="201.2" y="538.2" font-size="12.6" textLength="14.8" lengthAdjust="spacingAndGlyphs">0.2</text>
<text x="158.4" y="556.2" font-size="12.6" textLength="7.1" lengthAdjust="spacingAndGlyphs">−</text>
<text x="166.7" y="558" font-size="17.5" textLength="12" lengthAdjust="spacingAndGlyphs">∞</text>
<text x="158.4" y="574.2" font-size="12.6" textLength="7.1" lengthAdjust="spacingAndGlyphs">−</text>
<text x="166.7" y="576" font-size="17.5" textLength="12" lengthAdjust="spacingAndGlyphs">∞</text>
<text x="178.6" y="574.2" font-size="12.6">,</text>
<text x="182.9" y="574.2" font-size="12.6" textLength="13.9" lengthAdjust="spacingAndGlyphs">log</text>
<text x="201.5" y="574.2" font-size="12.6" textLength="25.8" lengthAdjust="spacingAndGlyphs"><tspan font-style="italic">ϵ</tspan>(Fe)</text>
<text x="231.4" y="574.2" font-size="12.6" textLength="8.2" lengthAdjust="spacingAndGlyphs">=</text>
<text x="244.3" y="574.2" font-size="12.6" textLength="7.1" lengthAdjust="spacingAndGlyphs">−</text>
<text x="252.7" y="576" font-size="17.5" textLength="12" lengthAdjust="spacingAndGlyphs">∞</text>
<rect x="55.85" y="369.9" width="290.55" height="217.6" fill="none" stroke="#000" stroke-width="1.7"/>
<text x="273.45" y="387.9" font-size="12.5" textLength="57.6" lengthAdjust="spacingAndGlyphs">(c) HE1523</text>
<text x="51.8" y="434.95" font-size="16" text-anchor="end" textLength="26.5" lengthAdjust="spacingAndGlyphs">1.00</text>
<text x="51.8" y="533.85" font-size="16" text-anchor="end" textLength="26.5" lengthAdjust="spacingAndGlyphs">0.95</text>
<text x="17.65" y="478.7" font-size="16.5" text-anchor="middle" textLength="113.8" lengthAdjust="spacingAndGlyphs" transform="rotate(-90 17.65 478.7)">Normalized Flux</text>
<path d="M55.85,631.15 H346.4" stroke="#4a4a4a" stroke-width="1.2" stroke-dasharray="1.15 1.2" fill="none"/>
<path d="M92.17,663.2 v-19.3 M164.81,663.2 v-19.3 M237.44,663.2 v-19.3 M310.08,663.2 v-19.3 M55.85,631.15 h19.3" stroke="#000" stroke-width="1.95" fill="none"/>
<path d="M74.01,663.2 v-9.4 M110.33,663.2 v-9.4 M128.49,663.2 v-9.4 M146.65,663.2 v-9.4 M182.97,663.2 v-9.4 M201.13,663.2 v-9.4 M219.28,663.2 v-9.4 M255.6,663.2 v-9.4 M273.76,663.2 v-9.4 M291.92,663.2 v-9.4 M328.24,663.2 v-9.4" stroke="#000" stroke-width="1.25" fill="none"/>
<g clip-path="url(#crc)">
<path d="M171.7,635.6 L175.3,632 L178.5,619.8 L185.6,621 L190.2,626.4 L195.6,624.5 L200.9,621.7 L207.4,621 L212.1,624.2 L217.4,625.3 L222.8,629.6 L230.2,628.5 L235.6,625.3 L240.9,622.1 L246.3,627.4 L251.8,631.7 L255,630.5 L255,630.9 L251.8,632.9 L246.3,630.2 L240.9,626.4 L235.6,632.4 L230.2,639.6 L222.8,644.6 L217.4,641.4 L212.1,640.9 L207.4,636.7 L200.9,636 L195.6,638.8 L190.2,636 L185.6,626.4 L178.5,623 L175.3,633.9 L171.7,637 Z" fill="#d62728" fill-opacity="0.3" stroke="none"/>
<path d="M155.1,616.7 L160.5,621.3 L165.8,629 L171.7,633.9 L175.3,628 L178.5,617.4 L185.6,616.1 L190.2,621 L195.6,617.8 L200.9,611.8 L207.4,609.7 L212.1,613.5 L217.4,616.1 L222.8,621.7 L230.2,623.8 L235.6,622.1 L240.9,620 L246.3,625.3 L251.6,630.7 L257,628.9 L262.3,626" fill="none" stroke="#1f77b4" stroke-width="1.2" stroke-dasharray="4.4 1.9" stroke-linejoin="round"/>
<path d="M66,598.6 L73.5,609.3 L77.8,618.9 L84.7,622.5 L96,614.6 L102.4,614.6 L109.9,615 L117.4,610.3 L122.8,612.5 L128.1,613.1 L132.4,620 L138.8,623.6 L143.1,617.8 L149.9,611.6 L155.1,616.7 L160.5,621.9 L165.8,630.2 L171.7,636.4 L175.3,632.8 L178.5,621.3 L185.6,623.5 L190.2,631.1 L195.6,631 L200.9,628.1 L207.4,627.9 L212.1,630.7 L217.4,631.7 L222.8,636 L230.2,633.4 L235.6,628.5 L240.9,624.2 L246.3,628.9 L251.8,632.4 L257.5,629.2 L262.3,626 L267.4,623.2 L273,621.7 L278.1,623.4 L283.7,624 L288,618.9 L293.4,623.5 L298.8,628.1 L306.1,627.4 L308.2,620 L312.5,598.6" fill="none" stroke="#d62728" stroke-width="1.15" stroke-linejoin="round"/>
</g>
<rect x="55.85" y="598.7" width="290.55" height="64.5" fill="none" stroke="#000" stroke-width="1.7"/>
<text x="51.45" y="604.3" font-size="16" text-anchor="end" textLength="18.8" lengthAdjust="spacingAndGlyphs">2.5</text>
<text x="51.45" y="637.05" font-size="16" text-anchor="end" textLength="18.8" lengthAdjust="spacingAndGlyphs">0.0</text>
<text x="51.45" y="669.7" font-size="16" text-anchor="end" textLength="30.6" lengthAdjust="spacingAndGlyphs">−2.5</text>
<text x="12.55" y="631.25" font-size="16.5" text-anchor="middle" textLength="86.5" lengthAdjust="spacingAndGlyphs" transform="rotate(-90 12.55 631.25)">Residual (%)</text>
<text x="92.27" y="678.4" font-size="16" text-anchor="middle" textLength="42" lengthAdjust="spacingAndGlyphs">4089.8</text>
<text x="164.91" y="678.4" font-size="16" text-anchor="middle" textLength="42" lengthAdjust="spacingAndGlyphs">4090.0</text>
<text x="237.54" y="678.4" font-size="16" text-anchor="middle" textLength="42" lengthAdjust="spacingAndGlyphs">4090.2</text>
<text x="310.18" y="678.4" font-size="16" text-anchor="middle" textLength="42" lengthAdjust="spacingAndGlyphs">4090.4</text>
<text x="200.32" y="699.2" font-size="16.5" text-anchor="middle" textLength="105.6" lengthAdjust="spacingAndGlyphs">Wavelength (Å)</text>
</g>
<g id="panel-d">
<clipPath id="cmd"><rect x="410.3" y="369.9" width="290.2" height="217.6"/></clipPath>
<clipPath id="crd"><rect x="410.3" y="598.7" width="290.2" height="64.5"/></clipPath>
<path d="M446.57,587.5 v-19.3 M519.13,587.5 v-19.3 M591.67,587.5 v-19.3 M664.22,587.5 v-19.3 M410.3,528.15 h19.3 M410.3,429.25 h19.3" stroke="#000" stroke-width="1.95" fill="none"/>
<path d="M428.44,587.5 v-9.4 M464.71,587.5 v-9.4 M482.85,587.5 v-9.4 M500.99,587.5 v-9.4 M537.26,587.5 v-9.4 M555.4,587.5 v-9.4 M573.54,587.5 v-9.4 M609.81,587.5 v-9.4 M627.95,587.5 v-9.4 M646.09,587.5 v-9.4 M682.36,587.5 v-9.4 M410.3,567.72 h9.4 M410.3,547.94 h9.4 M410.3,508.37 h9.4 M410.3,488.59 h9.4 M410.3,468.81 h9.4 M410.3,449.03 h9.4 M410.3,409.46 h9.4 M410.3,389.68 h9.4" stroke="#000" stroke-width="1.25" fill="none"/>
<g clip-path="url(#cmd)">
<path d="M522,449.2 C523.77,451.37 523.83,451.57 527.3,455.7 C530.77,459.83 529,458.47 532.4,461.6 C535.8,464.73 534.07,463.5 537.5,465.1 C540.93,466.7 539.27,465.97 542.7,466.4 C546.13,466.83 544.4,466.97 547.8,466.4 C551.2,465.83 549.47,466.57 552.9,464.7 C556.33,462.83 554.67,463.8 558.1,460.8 C561.53,457.8 559.77,459.4 563.2,455.7 C566.63,452 564.97,453.7 568.4,449.7 C571.83,445.7 570.1,447.43 573.5,443.7 C576.9,439.97 575.17,441.47 578.6,438.5 C582.03,435.53 580.37,436.67 583.8,434.8 C587.23,432.93 585.5,433.83 588.9,432.9 C592.3,431.97 590.87,432.17 594,432 C597.13,431.83 596.87,432.27 598.3,432.4 L598.3,432.5 C596.87,433.07 597.13,432.03 594,434.2 C590.87,436.37 592.3,435.1 588.9,439 C585.5,442.9 587.23,440.73 583.8,445.9 C580.37,451.07 582.03,448.67 578.6,454.5 C575.17,460.33 576.9,457.87 573.5,463.4 C570.1,468.93 571.83,466.53 568.4,471.1 C564.97,475.67 566.63,473.97 563.2,477.1 C559.77,480.23 561.53,478.93 558.1,480.5 C554.67,482.07 556.33,481.7 552.9,481.8 C549.47,481.9 551.2,482.1 547.8,480.8 C544.4,479.5 546.13,480.57 542.7,477.9 C539.27,475.23 540.93,476.8 537.5,472.8 C534.07,468.8 535.8,471.03 532.4,465.9 C529,460.77 530.77,462.97 527.3,457.4 C523.83,451.83 523.77,451.93 522,449.2 Z" fill="#d62728" fill-opacity="0.3" stroke="none"/>
<path d="M486,436.6 C486.48,436.32 487.57,435.67 488.9,434.9 C490.23,434.13 492,432.72 494,432 C496,431.28 498.32,430.98 500.9,430.6 C503.48,430.22 506.65,429.9 509.5,429.7 C512.35,429.5 515.43,429.45 518,429.4 C520.57,429.35 518.5,429.42 524.9,429.4 C531.3,429.38 545.45,429.27 556.4,429.3 C567.35,429.33 582.05,429.47 590.6,429.6 C599.15,429.73 603.6,429.9 607.7,430.1 C611.8,430.3 611.67,430.57 615.2,430.8 C618.73,431.03 625.18,431.22 628.9,431.5 C632.62,431.78 634.92,432.05 637.5,432.5 C640.08,432.95 642.4,433.2 644.4,434.2 C646.4,435.2 647.8,436.63 649.5,438.5 C651.2,440.37 653.27,443.23 654.6,445.4 C655.93,447.57 656.53,449.47 657.5,451.5 C658.47,453.53 659.22,454.88 660.4,457.6 C661.58,460.32 663.9,466.1 664.6,467.8" fill="none" stroke="#000" stroke-width="1.4" stroke-dasharray="1.35 1.85"/>
<path d="M509.8,436.5 C510.72,437.22 513.53,439.18 515.3,440.8 C517.07,442.42 518.7,444.43 520.4,446.2 C522.1,447.97 523.78,449.82 525.5,451.4 C527.22,452.98 528.98,454.57 530.7,455.7 C532.42,456.83 534.08,457.7 535.8,458.2 C537.52,458.7 539.28,458.83 541,458.7 C542.72,458.57 544.4,458.2 546.1,457.4 C547.8,456.6 549.48,455.18 551.2,453.9 C552.92,452.62 554.68,451.2 556.4,449.7 C558.12,448.2 559.8,446.48 561.5,444.9 C563.2,443.32 564.88,441.63 566.6,440.2 C568.32,438.77 570.08,437.43 571.8,436.3 C573.52,435.17 575.18,434.17 576.9,433.4 C578.62,432.63 580.38,432.13 582.1,431.7 C583.82,431.27 585.22,430.95 587.2,430.8 C589.18,430.65 591.72,430.72 594,430.8 C596.28,430.88 598.62,431.07 600.9,431.3 C603.18,431.53 605.88,431.93 607.7,432.2 C609.52,432.47 611.12,432.78 611.8,432.9" fill="none" stroke="#1f77b4" stroke-width="1.55" stroke-dasharray="5 2.0"/>
<path d="M411.3,454.2 C411.97,454.68 413.92,456.3 415.3,457.1 C416.68,457.9 418.18,458.57 419.6,459 C421.02,459.43 422.23,459.7 423.8,459.7 C425.37,459.7 427.28,459.35 429,459 C430.72,458.65 432.4,458.03 434.1,457.6 C435.8,457.17 437.2,456.7 439.2,456.4 C441.2,456.1 443.82,456.02 446.1,455.8 C448.38,455.58 450.62,455.5 452.9,455.1 C455.18,454.7 457.52,454.27 459.8,453.4 C462.08,452.53 464.32,451.28 466.6,449.9 C468.88,448.52 471.22,446.75 473.5,445.1 C475.78,443.45 478.02,441.57 480.3,440 C482.58,438.43 484.92,436.83 487.2,435.7 C489.48,434.57 492,433.68 494,433.2 C496,432.72 497.48,432.72 499.2,432.8 C500.92,432.88 502.53,433.08 504.3,433.7 C506.07,434.32 507.97,435.27 509.8,436.5 C511.63,437.73 513.53,439.33 515.3,441.1 C517.07,442.87 518.7,444.97 520.4,447.1 C522.1,449.23 523.78,451.62 525.5,453.9 C527.22,456.18 528.98,458.8 530.7,460.8 C532.42,462.8 534.08,464.57 535.8,465.9 C537.52,467.23 539.28,468.03 541,468.8 C542.72,469.57 544.4,470.18 546.1,470.5 C547.8,470.82 549.48,470.9 551.2,470.7 C552.92,470.5 554.68,470.1 556.4,469.3 C558.12,468.5 559.8,467.32 561.5,465.9 C563.2,464.48 564.88,462.7 566.6,460.8 C568.32,458.9 570.08,456.65 571.8,454.5 C573.52,452.35 575.18,449.98 576.9,447.9 C578.62,445.82 580.38,443.77 582.1,442 C583.82,440.23 585.5,438.6 587.2,437.3 C588.9,436 590.58,434.97 592.3,434.2 C594.02,433.43 595.78,433.03 597.5,432.7 C599.22,432.37 600.6,432.22 602.6,432.2 C604.6,432.18 607.22,432.37 609.5,432.6 C611.78,432.83 613.92,433.23 616.3,433.6 C618.68,433.97 621.12,434.47 623.8,434.8 C626.48,435.13 629.83,435.32 632.4,435.6 C634.97,435.88 637.07,436.02 639.2,436.5 C641.33,436.98 643.35,437.45 645.2,438.5 C647.05,439.55 648.58,440.93 650.3,442.8 C652.02,444.67 653.92,447.27 655.5,449.7 C657.08,452.13 658.38,454.42 659.8,457.4 C661.22,460.38 662.72,464.03 664,467.6 C665.28,471.17 666.5,474.93 667.5,478.8 C668.5,482.67 669.25,486.55 670,490.8 C670.75,495.05 671.25,499.2 672,504.3 C672.75,509.4 673.62,515.47 674.5,521.4 C675.38,527.33 676.35,533.25 677.3,539.9 C678.25,546.55 679.22,553.37 680.2,561.3 C681.18,569.23 682.7,583.13 683.2,587.5" fill="none" stroke="#d62728" stroke-width="1.3"/>
<g fill="#000"><circle cx="412.4" cy="483.8" r="2.35"/><circle cx="417.8" cy="482.6" r="2.35"/><circle cx="423.3" cy="469.1" r="2.35"/><circle cx="428.6" cy="459.9" r="2.35"/><circle cx="434.1" cy="459.9" r="2.35"/><circle cx="439.6" cy="456.8" r="2.35"/><circle cx="444.9" cy="462.4" r="2.35"/><circle cx="450.2" cy="472.2" r="2.35"/><circle cx="455.7" cy="469.1" r="2.35"/><circle cx="461" cy="468.6" r="2.35"/><circle cx="466.5" cy="472.4" r="2.35"/><circle cx="471.8" cy="468.6" r="2.35"/><circle cx="477.3" cy="458" r="2.35"/><circle cx="482.6" cy="452.8" r="2.35"/><circle cx="488" cy="454.4" r="2.35"/><circle cx="493.4" cy="452.7" r="2.35"/><circle cx="498.8" cy="446.7" r="2.35"/><circle cx="504.3" cy="443" r="2.35"/><circle cx="509.6" cy="446.2" r="2.35"/><circle cx="515.1" cy="456.2" r="2.35"/><circle cx="520.6" cy="461" r="2.35"/><circle cx="525.9" cy="457.1" r="2.35"/><circle cx="531.4" cy="460.8" r="2.35"/><circle cx="536.7" cy="462.5" r="2.35"/><circle cx="542.2" cy="451.4" r="2.35"/><circle cx="547.5" cy="450.3" r="2.35"/><circle cx="552.9" cy="462.8" r="2.35"/><circle cx="558.3" cy="470.9" r="2.35"/><circle cx="563.7" cy="468.2" r="2.35"/><circle cx="569" cy="461.1" r="2.35"/><circle cx="574.5" cy="452.7" r="2.35"/><circle cx="579.8" cy="442.3" r="2.35"/><circle cx="585.3" cy="434.2" r="2.35"/><circle cx="590.7" cy="435.4" r="2.35"/><circle cx="596.1" cy="444.9" r="2.35"/><circle cx="601.5" cy="449.1" r="2.35"/><circle cx="607" cy="450.9" r="2.35"/><circle cx="612.3" cy="457.4" r="2.35"/><circle cx="617.8" cy="463" r="2.35"/><circle cx="623.1" cy="460.3" r="2.35"/><circle cx="628.6" cy="455.1" r="2.35"/><circle cx="634.1" cy="453.8" r="2.35"/><circle cx="639.4" cy="445.7" r="2.35"/><circle cx="644.9" cy="436.1" r="2.35"/><circle cx="650.2" cy="438" r="2.35"/><circle cx="655.7" cy="451.4" r="2.35"/><circle cx="661" cy="464.2" r="2.35"/><circle cx="666.4" cy="475" r="2.35"/><circle cx="671.9" cy="504.1" r="2.35"/><circle cx="676.9" cy="549.9" r="2.35"/></g>
</g>
<path d="M423.9,402.3 V424.9 M463.2,402.3 V424.9 M545,402.3 V424.9 M566.9,402.3 V424.9 M688.5,478.5 V501.2" stroke="#000" stroke-width="1.6" fill="none"/>
<text x="429.8" y="400.4" font-size="13.8" textLength="25.6" lengthAdjust="spacingAndGlyphs" transform="rotate(-90 429.8 400.4)">Ce II</text>
<text x="469.1" y="400.4" font-size="13.8" textLength="25.6" lengthAdjust="spacingAndGlyphs" transform="rotate(-90 469.1 400.4)">Ce II</text>
<text x="550.9" y="400.4" font-size="13.8" textLength="19.9" lengthAdjust="spacingAndGlyphs" transform="rotate(-90 550.9 400.4)">Fe I</text>
<text x="572.8" y="400.4" font-size="13.8" textLength="20.4" lengthAdjust="spacingAndGlyphs" transform="rotate(-90 572.8 400.4)">U II</text>
<text x="694.4" y="475.1" font-size="13.8" textLength="25.6" lengthAdjust="spacingAndGlyphs" transform="rotate(-90 694.4 475.1)">Ce II</text>
<rect x="416.15" y="523.9" width="208.1" height="58" rx="2.6" fill="#fff" fill-opacity="0.84" stroke="#ccc" stroke-opacity="0.8" stroke-width="1"/>
<rect x="420.5" y="529" width="24.7" height="9.4" fill="#d62728" fill-opacity="0.3"/>
<path d="M420.5,533.7 H445.2" stroke="#d62728" stroke-width="1.3"/>
<path d="M420.5,551.8 H445.2" stroke="#1f77b4" stroke-width="1.4" stroke-dasharray="5 2.1"/>
<path d="M420.9,569.6 H445.5" stroke="#000" stroke-width="1.35" stroke-dasharray="1.3 1.75"/>
<text x="454.5" y="538.2" font-size="12.6" textLength="13.9" lengthAdjust="spacingAndGlyphs">log</text>
<text x="473.1" y="538.2" font-size="12.6" textLength="22.4" lengthAdjust="spacingAndGlyphs"><tspan font-style="italic">ϵ</tspan>(U)</text>
<text x="499.8" y="538.2" font-size="12.6" textLength="8.2" lengthAdjust="spacingAndGlyphs">=</text>
<text x="454.5" y="556.2" font-size="12.6" textLength="13.9" lengthAdjust="spacingAndGlyphs">log</text>
<text x="473.1" y="556.2" font-size="12.6" textLength="22.4" lengthAdjust="spacingAndGlyphs"><tspan font-style="italic">ϵ</tspan>(U)</text>
<text x="499.8" y="556.2" font-size="12.6" textLength="8.2" lengthAdjust="spacingAndGlyphs">=</text>
<text x="454.5" y="574.2" font-size="12.6" textLength="13.9" lengthAdjust="spacingAndGlyphs">log</text>
<text x="473.1" y="574.2" font-size="12.6" textLength="22.4" lengthAdjust="spacingAndGlyphs"><tspan font-style="italic">ϵ</tspan>(U)</text>
<text x="499.8" y="574.2" font-size="12.6" textLength="8.2" lengthAdjust="spacingAndGlyphs">=</text>
<text x="512.7" y="538.2" font-size="12.6" textLength="28.1" lengthAdjust="spacingAndGlyphs">−2.00</text>
<text x="543.7" y="538.2" font-size="12.6" textLength="7.4" lengthAdjust="spacingAndGlyphs">±</text>
<text x="555.7" y="538.2" font-size="12.6" textLength="14.8" lengthAdjust="spacingAndGlyphs">0.2</text>
<text x="512.9" y="556.2" font-size="12.6" textLength="7.1" lengthAdjust="spacingAndGlyphs">−</text>
<text x="521.2" y="558" font-size="17.5" textLength="12" lengthAdjust="spacingAndGlyphs">∞</text>
<text x="512.9" y="574.2" font-size="12.6" textLength="7.1" lengthAdjust="spacingAndGlyphs">−</text>
<text x="521.2" y="576" font-size="17.5" textLength="12" lengthAdjust="spacingAndGlyphs">∞</text>
<text x="533.1" y="574.2" font-size="12.6">,</text>
<text x="537.4" y="574.2" font-size="12.6" textLength="13.9" lengthAdjust="spacingAndGlyphs">log</text>
<text x="556" y="574.2" font-size="12.6" textLength="25.8" lengthAdjust="spacingAndGlyphs"><tspan font-style="italic">ϵ</tspan>(Fe)</text>
<text x="585.9" y="574.2" font-size="12.6" textLength="8.2" lengthAdjust="spacingAndGlyphs">=</text>
<text x="598.8" y="574.2" font-size="12.6" textLength="7.1" lengthAdjust="spacingAndGlyphs">−</text>
<text x="607.2" y="576" font-size="17.5" textLength="12" lengthAdjust="spacingAndGlyphs">∞</text>
<rect x="410.3" y="369.9" width="290.2" height="217.6" fill="none" stroke="#000" stroke-width="1.7"/>
<text x="627.9" y="387.9" font-size="12.5" textLength="62.8" lengthAdjust="spacingAndGlyphs">(d) CS31082</text>
<text x="406.25" y="434.95" font-size="16" text-anchor="end" textLength="26.5" lengthAdjust="spacingAndGlyphs">1.00</text>
<text x="406.25" y="533.85" font-size="16" text-anchor="end" textLength="26.5" lengthAdjust="spacingAndGlyphs">0.95</text>
<text x="372.1" y="478.7" font-size="16.5" text-anchor="middle" textLength="113.8" lengthAdjust="spacingAndGlyphs" transform="rotate(-90 372.1 478.7)">Normalized Flux</text>
<path d="M410.3,631.15 H700.5" stroke="#4a4a4a" stroke-width="1.2" stroke-dasharray="1.15 1.2" fill="none"/>
<path d="M446.57,663.2 v-19.3 M519.13,663.2 v-19.3 M591.67,663.2 v-19.3 M664.22,663.2 v-19.3 M410.3,631.15 h19.3" stroke="#000" stroke-width="1.95" fill="none"/>
<path d="M428.44,663.2 v-9.4 M464.71,663.2 v-9.4 M482.85,663.2 v-9.4 M500.99,663.2 v-9.4 M537.26,663.2 v-9.4 M555.4,663.2 v-9.4 M573.54,663.2 v-9.4 M609.81,663.2 v-9.4 M627.95,663.2 v-9.4 M646.09,663.2 v-9.4 M682.36,663.2 v-9.4" stroke="#000" stroke-width="1.25" fill="none"/>
<g clip-path="url(#crd)">
<path d="M525.9,627.2 L531.3,628.1 L536.6,631.7 L540.9,640.3 L547.9,641.4 L552.7,632.8 L555.3,627.4 L559.6,623.8 L564.9,623.2 L570.3,623.6 L574.5,626.4 L579.9,628.5 L584.2,631.7 L590.6,629.6 L594.9,623.2 L598,622 L598,622.6 L594.9,625.3 L590.6,634.5 L584.2,639.6 L579.9,637.1 L574.5,637.1 L570.3,635.6 L564.9,633.9 L559.6,633.9 L555.3,637.5 L552.7,640.9 L547.9,651 L540.9,646.1 L536.6,634.5 L531.3,629 L525.9,627.6 Z" fill="#d62728" fill-opacity="0.3" stroke="none"/>
<path d="M518.8,618.9 L525.9,626 L531.3,626.4 L536.6,628.1 L540.9,634.9 L547.9,634.9 L552.7,624.2 L555.3,618.9 L559.6,614.6 L564.9,614.2 L570.3,615.7 L574.5,618.9 L579.9,623.8 L584.2,628.5 L590.6,628.5 L594.9,622.5 L600.2,620 L606.6,617.4 L613.1,614.2" fill="none" stroke="#1f77b4" stroke-width="1.2" stroke-dasharray="4.4 1.9" stroke-linejoin="round"/>
<path d="M410.6,612.5 L414.6,612 L418.9,616.7 L428.5,630.7 L435,629.2 L439.2,631.1 L445.7,627.4 L450.6,620.6 L455.9,621 L461.1,621.5 L465.6,617.2 L471.8,616.3 L475.6,621.7 L482.5,621.7 L487.4,618.9 L493.2,618.2 L498.1,622.1 L504.5,625.3 L512,622.1 L518.8,620 L525.9,627.4 L531.3,628.5 L536.6,632.8 L540.9,642.4 L547.9,645.2 L552.7,636 L555.3,631.7 L559.6,628.9 L564.9,628.5 L570.3,628.5 L574.5,630.7 L579.9,631.7 L584.2,635.4 L590.6,631.7 L594.9,624.2 L600.2,621 L606.6,617.8 L613.1,614.6 L617.3,611.4 L623.3,613.5 L628,617.8 L634.5,619.5 L640.9,626.4 L646.9,632.8 L650.5,633.2 L656.9,630.7 L660.6,627.9 L667.6,636 L671.5,628.5 L678.3,630.2 L682.6,613.5 L689,612.5 L693.3,598.6 L700.6,616.7" fill="none" stroke="#d62728" stroke-width="1.15" stroke-linejoin="round"/>
</g>
<rect x="410.3" y="598.7" width="290.2" height="64.5" fill="none" stroke="#000" stroke-width="1.7"/>
<text x="405.9" y="604.3" font-size="16" text-anchor="end" textLength="18.8" lengthAdjust="spacingAndGlyphs">2.5</text>
<text x="405.9" y="637.05" font-size="16" text-anchor="end" textLength="18.8" lengthAdjust="spacingAndGlyphs">0.0</text>
<text x="405.9" y="669.7" font-size="16" text-anchor="end" textLength="30.6" lengthAdjust="spacingAndGlyphs">−2.5</text>
<text x="367" y="631.25" font-size="16.5" text-anchor="middle" textLength="86.5" lengthAdjust="spacingAndGlyphs" transform="rotate(-90 367 631.25)">Residual (%)</text>
<text x="446.68" y="678.4" font-size="16" text-anchor="middle" textLength="42" lengthAdjust="spacingAndGlyphs">4089.8</text>
<text x="519.23" y="678.4" font-size="16" text-anchor="middle" textLength="42" lengthAdjust="spacingAndGlyphs">4090.0</text>
<text x="591.77" y="678.4" font-size="16" text-anchor="middle" textLength="42" lengthAdjust="spacingAndGlyphs">4090.2</text>
<text x="664.33" y="678.4" font-size="16" text-anchor="middle" textLength="42" lengthAdjust="spacingAndGlyphs">4090.4</text>
<text x="554.6" y="699.2" font-size="16.5" text-anchor="middle" textLength="105.6" lengthAdjust="spacingAndGlyphs">Wavelength (Å)</text>
</g>
</svg></body></html>
